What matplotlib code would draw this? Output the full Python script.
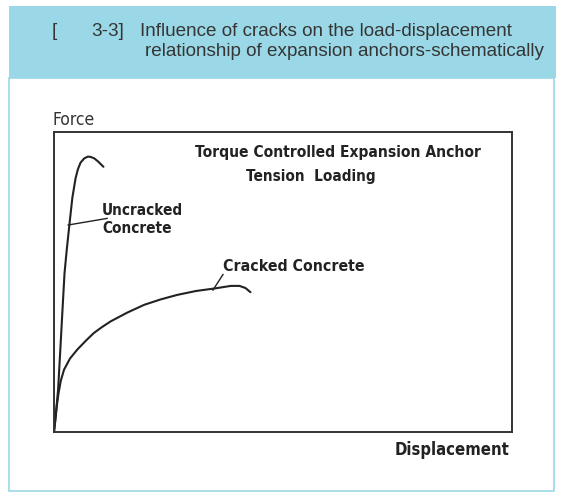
import matplotlib.pyplot as plt
from matplotlib.patches import Rectangle

# schematic load-displacement curves, normalised to the frame (0..1)
uncracked_disp = [0.0, 0.004, 0.009, 0.015, 0.019, 0.023, 0.028, 0.033, 0.040,
                  0.047, 0.052, 0.058, 0.066, 0.074, 0.080, 0.088, 0.096, 0.102, 0.108]
uncracked_force = [0.0, 0.06, 0.142, 0.308, 0.42, 0.53, 0.61, 0.682, 0.78,
                   0.845, 0.875, 0.898, 0.912, 0.918, 0.917, 0.912, 0.902, 0.893, 0.884]

cracked_disp = [0.0, 0.003, 0.006, 0.010, 0.015, 0.022, 0.035, 0.051, 0.070, 0.087,
                0.105, 0.124, 0.160, 0.197, 0.233, 0.269, 0.310, 0.353, 0.386, 0.405,
                0.418, 0.429]
cracked_force = [0.0, 0.04, 0.085, 0.13, 0.172, 0.208, 0.245, 0.275, 0.305, 0.330,
                 0.350, 0.369, 0.398, 0.424, 0.442, 0.457, 0.470, 0.479, 0.487, 0.487,
                 0.480, 0.466]

fig_number = "3-3]"
header_lines = ["Influence of cracks on the load-displacement",
                "relationship of expansion anchors-schematically"]

ink = '#222222'
header_blue = '#9bd8e7'
hand = dict(family='DejaVu Sans', stretch='condensed', weight='bold', color=ink)
head = dict(fontsize=13.6, family='Liberation Sans', color='#353535', va='center', ha='left')

fig = plt.figure(figsize=(5.69, 4.93), dpi=100)
W, H = 569, 493

# header band and bordered panel
fig.patches.append(Rectangle((9 / W, 1 - 491 / H), 545 / W, 413 / H, transform=fig.transFigure,
                             facecolor='none', edgecolor=header_blue, lw=1.2, zorder=0))
fig.patches.append(Rectangle((9 / W, 1 - 78 / H), 547 / W, 72 / H, transform=fig.transFigure,
                             facecolor=header_blue, edgecolor='none', zorder=0))
fig.text(52 / W, 1 - 32 / H, "[", **head)
fig.text(91 / W, 1 - 32 / H, fig_number, **head)
fig.text(140 / W, 1 - 32 / H, header_lines[0], **head)
fig.text(145 / W, 1 - 52 / H, header_lines[1], **head)

ax = fig.add_axes([54 / W, 1 - 432 / H, 458 / W, 300 / H])
ax.set_zorder(2)
ax.plot(uncracked_disp, uncracked_force, color=ink, lw=1.5, solid_capstyle='round')
ax.plot(cracked_disp, cracked_force, color=ink, lw=1.5, solid_capstyle='round')
ax.set_xlim(0, 1)
ax.set_ylim(0, 1)
ax.set_xticks([])
ax.set_yticks([])
for s in ax.spines.values():
    s.set_linewidth(1.4)
    s.set_color('#333333')

# labels with leader lines
ax.plot([0.031, 0.116], [0.69, 0.712], color=ink, lw=1.0)
ax.text(0.105, 0.708, 'Uncracked\nConcrete', fontsize=11, ha='left', va='center',
        linespacing=1.3, **hand)
ax.plot([0.347, 0.369], [0.473, 0.525], color=ink, lw=1.0)
ax.text(0.37, 0.553, 'Cracked Concrete', fontsize=11.3, ha='left', va='center', **hand)
ax.text(0.62, 0.93, 'Torque Controlled Expansion Anchor', fontsize=11.2, ha='center',
        va='center', **hand)
ax.text(0.56, 0.85, 'Tension  Loading', fontsize=11, ha='center', va='center', **hand)

fig.text(52 / W, 1 - 120 / H, 'Force', fontsize=12.5, ha='left', va='center',
         family='DejaVu Sans', stretch='condensed', color='#333333')
fig.text(510 / W, 1 - 450 / H, 'Displacement', fontsize=12, ha='right', va='center', **hand)

fig.savefig('out.png', dpi=100)
